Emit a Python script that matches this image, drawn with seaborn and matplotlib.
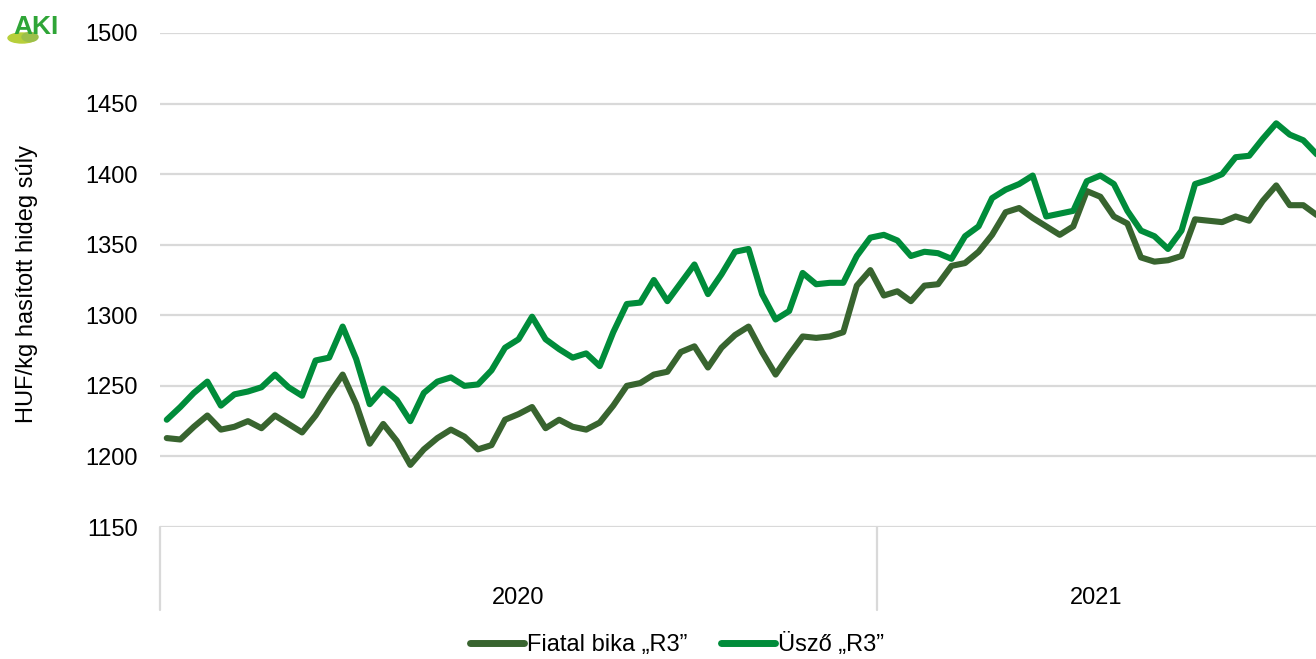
import matplotlib
matplotlib.use("Agg")
import matplotlib.pyplot as plt
import matplotlib.transforms as mtransforms
from matplotlib.lines import Line2D
from matplotlib.patches import Ellipse
import numpy as np
import pandas as pd
import seaborn as sns

# ---------------- data ----------------
year_labels = ["2020", "2021"]
weeks_per_year = [53, 33]

series_names = ["Fiatal bika \u201eR3\u201d", "Üsző \u201eR3\u201d"]

fiatal_bika = [
    1213, 1212, 1221, 1229, 1219, 1221, 1225, 1220, 1229, 1223,
    1217, 1229, 1244, 1258, 1237, 1209, 1223, 1211, 1194, 1205,
    1213, 1219, 1214, 1205, 1208, 1226, 1230, 1235, 1220, 1226,
    1221, 1219, 1224, 1236, 1250, 1252, 1258, 1260, 1274, 1278,
    1263, 1277, 1286, 1292, 1274, 1258, 1272, 1285, 1284, 1285,
    1288, 1321, 1332,
    1314, 1317, 1310, 1321, 1322, 1335, 1337, 1345, 1357, 1373,
    1376, 1369, 1363, 1357, 1363, 1388, 1384, 1370, 1365, 1341,
    1338, 1339, 1342, 1368, 1367, 1366, 1370, 1367, 1381, 1392,
    1378, 1378, 1371,
]

uszo = [
    1226, 1235, 1245, 1253, 1236, 1244, 1246, 1249, 1258, 1249,
    1243, 1268, 1270, 1292, 1269, 1237, 1248, 1240, 1225, 1245,
    1253, 1256, 1250, 1251, 1261, 1277, 1283, 1299, 1283, 1276,
    1270, 1273, 1264, 1288, 1308, 1309, 1325, 1310, 1323, 1336,
    1315, 1329, 1345, 1347, 1315, 1297, 1303, 1330, 1322, 1323,
    1323, 1342, 1355,
    1357, 1353, 1342, 1345, 1344, 1340, 1356, 1363, 1383, 1389,
    1393, 1399, 1370, 1372, 1374, 1395, 1399, 1393, 1374, 1360,
    1356, 1347, 1360, 1393, 1396, 1400, 1412, 1413, 1425, 1436,
    1428, 1424, 1414,
]

y_ticks = [1150, 1200, 1250, 1300, 1350, 1400, 1450, 1500]
y_label = "HUF/kg hasított hideg súly"

colors = ["#38642F", "#008C3A"]

# ---------------- figure ----------------
sns.set_theme(style="white")
plt.rcParams["font.family"] = ["Liberation Sans", "DejaVu Sans"]
FS = 17

W, H = 1316, 659
fig = plt.figure(figsize=(W / 100, H / 100), dpi=100)
ax_left, ax_right, ax_top, ax_bottom = 160, 1316, 33, 527
ax = fig.add_axes([ax_left / W, (H - ax_bottom) / H,
                   (ax_right - ax_left) / W, (ax_bottom - ax_top) / H])

n = len(fiatal_bika)
idx = list(range(n))
df = pd.DataFrame({
    "idx": idx + idx,
    "value": fiatal_bika + uszo,
    "series": [series_names[0]] * n + [series_names[1]] * n,
})

sns.lineplot(data=df, x="idx", y="value", hue="series",
             hue_order=series_names, palette=colors, linewidth=4.4,
             ax=ax, legend=False, solid_joinstyle="round",
             solid_capstyle="round")

ax.set_xlim(-0.5, 84.94)
ax.set_ylim(1150, 1500)
ax.set_yticks(y_ticks)
ax.set_yticklabels([str(t) for t in y_ticks], fontsize=FS)
ax.tick_params(axis="y", length=0, pad=16, colors="black")
ax.set_xticks([])
ax.set_xlabel("")
ax.set_ylabel("")
ax.yaxis.grid(True, color="#d9d9d9", linewidth=1.6)
ax.xaxis.grid(False)
ax.set_axisbelow(True)
for s in ax.spines.values():
    s.set_visible(False)

# category (year) axis below the plot
trans = mtransforms.blended_transform_factory(ax.transData, ax.transAxes)
bottom_frac = -(610 - 527) / (ax_bottom - ax_top)
label_frac = -(598 - 527) / (ax_bottom - ax_top)
start = -0.5
right_edge = ax.get_xlim()[1]
for lab, nw in zip(year_labels, weeks_per_year):
    end = start + nw
    ax.plot([start, start], [0, bottom_frac], transform=trans,
            color="#d9d9d9", linewidth=1.6, clip_on=False)
    center = (start + min(end, right_edge)) / 2
    ax.text(center, label_frac, lab, transform=trans, ha="center",
            va="center", fontsize=FS, color="black")
    start = end

# y label
fig.text(27 / W, 1 - 284 / H, y_label, rotation=90, ha="center",
         va="center", fontsize=FS, color="black")

# legend
handles = [Line2D([0], [0], color=c, linewidth=5, solid_capstyle="round")
           for c in colors]
fig.legend(handles, series_names, loc="center",
           bbox_to_anchor=(677 / W, 1 - 645 / H), ncol=2, frameon=False,
           fontsize=FS, handlelength=2.3, handletextpad=0.13,
           columnspacing=1.4, labelcolor="black")

# logo
fig.patches.append(Ellipse((22 / W, 1 - 38 / H), 28 / W, 10 / H,
                           transform=fig.transFigure, color="#b7cf3a",
                           zorder=1))
fig.patches.append(Ellipse((30 / W, 1 - 37 / H), 16 / W, 9 / H,
                           transform=fig.transFigure, color="#9cbf4a",
                           zorder=1))
fig.text(36 / W, 1 - 27 / H, "AKI", color="#2fa537", fontsize=19,
         fontweight="bold", ha="center", va="center", zorder=2)

fig.savefig("out.png", dpi=100, facecolor="white")
